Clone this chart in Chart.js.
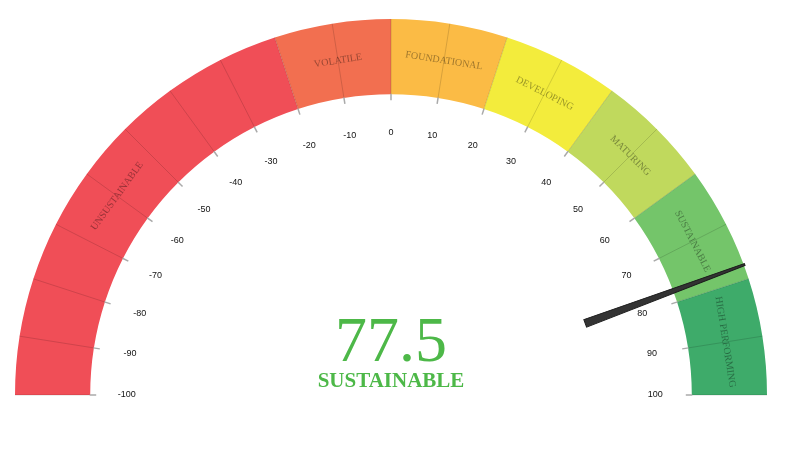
<!DOCTYPE html>
<html>
<head>
<meta charset="utf-8">
<script src="https://cdn.jsdelivr.net/npm/chart.js@4"></script>
<style>
html,body{margin:0;padding:0;background:#fff;}
#wrap{width:798px;height:470px;}
</style>
</head>
<body>
<div id="wrap"><canvas id="c" width="798" height="470"></canvas></div>
<script>
// ---- data ----
const bandLabels = ['UNSUSTAINABLE','VOLATILE','FOUNDATIONAL','DEVELOPING','MATURING','SUSTAINABLE','HIGH PERFORMING'];
const bandStarts = [-100, -20, 0, 20, 40, 60, 80];
const bandEnds   = [-20, 0, 20, 40, 60, 80, 100];
const bandColors = ['#f04e57','#f26f50','#fbbb45','#f3ec3c','#c0d95d','#74c56a','#3eab6a'];
const tickValues = [-100,-90,-80,-70,-60,-50,-40,-30,-20,-10,0,10,20,30,40,50,60,70,80,90,100];
const tickLabels = ['-100','-90','-80','-70','-60','-50','-40','-30','-20','-10','0','10','20','30','40','50','60','70','80','90','100'];
const gaugeMin = -100;
const gaugeMax = 100;
const gaugeValue = 77.5;
const gaugeText = '77.5';
const gaugeCategory = 'SUSTAINABLE';

const spans = bandStarts.map((s, i) => bandEnds[i] - s);

const gaugePlugin = {
  id: 'gaugeDecor',
  afterDatasetsDraw(chart) {
    const ctx = chart.ctx;
    const arcs = chart.getDatasetMeta(0).data;
    const cx = arcs[0].x, cy = arcs[0].y;
    const rOut = arcs[0].outerRadius, rIn = arcs[0].innerRadius;
    const a0 = arcs[0].startAngle, a1 = arcs[arcs.length - 1].endAngle;
    const ang = v => a0 + (v - gaugeMin) / (gaugeMax - gaugeMin) * (a1 - a0);

    ctx.save();
    // band division lines and ticks
    tickValues.forEach(v => {
      const a = ang(v);
      const c = Math.cos(a), s = Math.sin(a);
      ctx.strokeStyle = 'rgba(0,0,0,0.14)';
      ctx.lineWidth = 1;
      ctx.beginPath();
      ctx.moveTo(cx + c * rIn, cy + s * rIn);
      ctx.lineTo(cx + c * rOut, cy + s * rOut);
      ctx.stroke();
      ctx.strokeStyle = '#aaaaaa';
      ctx.lineWidth = 1.5;
      ctx.beginPath();
      ctx.moveTo(cx + c * (rIn + 0.5), cy + s * (rIn + 0.5));
      ctx.lineTo(cx + c * (rIn - 6), cy + s * (rIn - 6));
      ctx.stroke();
    });
    // tick labels
    ctx.fillStyle = '#111';
    ctx.font = '9px "Liberation Sans", Arial, sans-serif';
    ctx.textAlign = 'center';
    ctx.textBaseline = 'middle';
    const rLab = rIn - 36.5;
    tickValues.forEach((v, i) => {
      const a = ang(v);
      const s = Math.sin(a);
      ctx.fillText(tickLabels[i], cx + Math.cos(a) * rLab, cy + s * rLab - 2 * s);
    });
    // band labels
    ctx.font = '10px "Liberation Serif", "Times New Roman", serif';
    ctx.fillStyle = 'rgba(0,0,0,0.38)';
    const rMid = (rIn + rOut) / 2;
    bandLabels.forEach((lab, i) => {
      const v = (bandStarts[i] + bandEnds[i]) / 2;
      const a = ang(v);
      ctx.save();
      ctx.translate(cx + Math.cos(a) * rMid, cy + Math.sin(a) * rMid);
      ctx.rotate(a + Math.PI / 2);
      ctx.fillText(lab, 0, 0);
      ctx.restore();
    });
    // needle
    const an = ang(gaugeValue);
    const rBase = 207, rTip = rOut + 1;
    ctx.save();
    ctx.translate(cx, cy);
    ctx.rotate(an);
    ctx.fillStyle = '#333';
    ctx.strokeStyle = '#1a1a1a';
    ctx.lineWidth = 1;
    ctx.beginPath();
    ctx.moveTo(rBase, -4);
    ctx.lineTo(rTip, -1);
    ctx.lineTo(rTip, 1);
    ctx.lineTo(rBase, 4);
    ctx.closePath();
    ctx.fill();
    ctx.stroke();
    ctx.restore();
    // center text
    ctx.fillStyle = '#4db848';
    ctx.textBaseline = 'alphabetic';
    ctx.font = '64px "Liberation Serif", "Times New Roman", serif';
    ctx.fillText(gaugeText, cx, cy - 34);
    ctx.font = 'bold 21px "Liberation Serif", "Times New Roman", serif';
    ctx.fillText(gaugeCategory, cx, cy - 8);
    ctx.restore();
  }
};

new Chart(document.getElementById('c'), {
  type: 'doughnut',
  data: {
    labels: bandLabels,
    datasets: [{
      data: spans,
      backgroundColor: bandColors,
      borderWidth: 0,
      hoverOffset: 0
    }]
  },
  options: {
    responsive: false,
    animation: false,
    events: [],
    rotation: -90,
    circumference: 180,
    cutout: '80%',
    layout: { padding: { left: 15, right: 31, top: 19, bottom: 75 } },
    plugins: { legend: { display: false }, tooltip: { enabled: false } }
  },
  plugins: [gaugePlugin]
});
</script>
</body>
</html>
